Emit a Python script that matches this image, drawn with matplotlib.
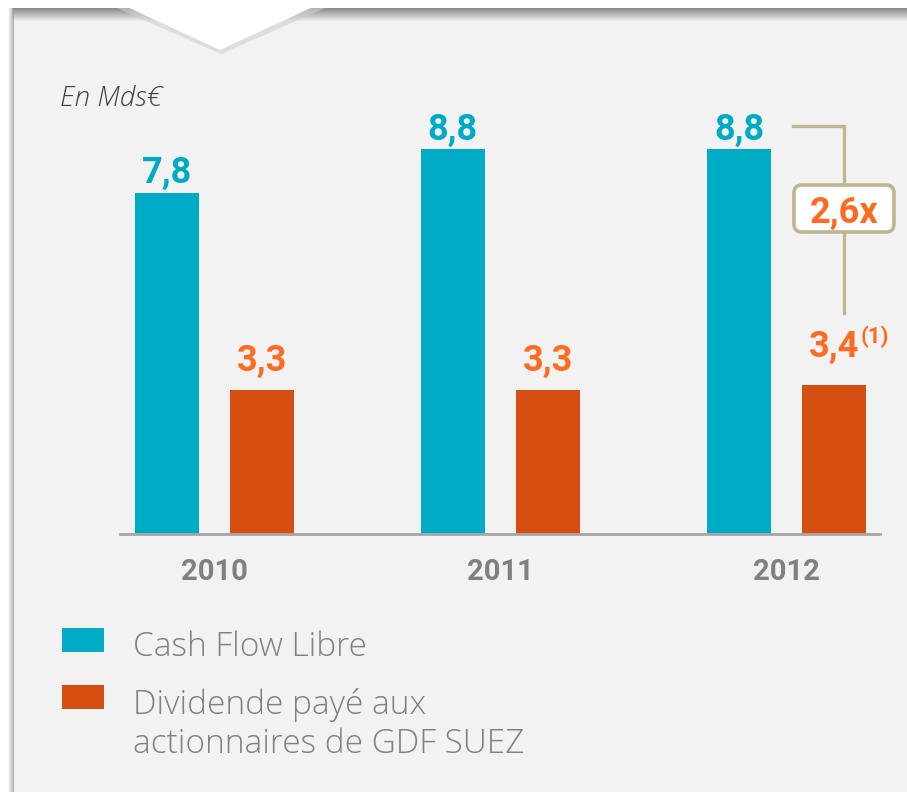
import numpy as np
import matplotlib.pyplot as plt
from matplotlib.patches import Rectangle, Polygon, FancyBboxPatch
from matplotlib.transforms import ScaledTranslation

# --- Data ---
years = ["2010", "2011", "2012"]
cash_flow = [7.8, 8.8, 8.8]
dividend = [3.3, 3.3, 3.4]
labels_cf = ["7,8", "8,8", "8,8"]
labels_div = ["3,3", "3,3", "3,4"]
ratio_label = "2,6x"
legend_labels = ["Cash Flow Libre", "Dividende payé aux\nactionnaires de GDF SUEZ"]

BLUE = "#00acc5"
ORANGE = "#d64e12"
ORANGE_TXT = "#ff6a21"
GREY_TXT = "#808080"
TAN = "#bdb68f"
BG = "#f2f2f2"

W, H = 907, 792
fig = plt.figure(figsize=(W / 100, H / 100), dpi=100)
fig.patch.set_facecolor("white")

# --- background / decoration axes in pixel coordinates ---
bg = fig.add_axes([0, 0, 1, 1], zorder=0)
bg.set_xlim(0, W)
bg.set_ylim(H, 0)
bg.axis("off")
bg.add_patch(Rectangle((12, 8), W - 12, H - 8, color=BG, lw=0))
# top shadow
grad = np.linspace(0.45, 0.95, 14)[:, None] * np.ones((1, 10))
bg.imshow(grad, cmap="gray", vmin=0, vmax=1, extent=(12, W, 22, 8), aspect="auto",
          alpha=0.8, zorder=1)
# left shadow
lgrad = np.linspace(0.95, 0.6, 6)[None, :] * np.ones((10, 1))
bg.imshow(lgrad, cmap="gray", vmin=0, vmax=1, extent=(8, 14, H, 8), aspect="auto",
          alpha=0.7, zorder=1)
bg.add_patch(Polygon([(112, 6), (330, 6), (221, 54)], closed=True, color="#cfcfcf",
                     lw=0, zorder=2, alpha=0.6))
bg.add_patch(Polygon([(112, 0), (328, 0), (220, 50)], closed=True, color="white",
                     lw=0, zorder=3))
bg.add_patch(Rectangle((0, 0), W, 8, color="white", lw=0, zorder=3))

bg.text(60, 98, "En Mds€", fontsize=20, style="italic", color="#404040",
        family="Open Sans", fontweight="light", va="center", ha="left")

# legend
for i, (lab, col) in enumerate(zip(legend_labels, [BLUE, ORANGE])):
    y0 = 628 + i * 57
    bg.add_patch(Rectangle((62, y0), 42, 24, color=col, lw=0))
    bg.text(133, y0 + 3, lab, fontsize=24, color=GREY_TXT, family="Open Sans",
            fontweight="light", va="top", ha="left", linespacing=1.22)

# --- bar axes ---
px_unit = (534 - 149) / 8.8
top_px = 100
ax = fig.add_axes([120 / W, (H - 534) / H, (880 - 120) / W, (534 - top_px) / H], zorder=1)
ax.patch.set_alpha(0)
ax.set_ylim(0, (534 - top_px) / px_unit)
ax.set_xlim(-0.330, 2.327)

x = np.arange(len(years))
off = 95 / 2 / 286
bw = 64 / 286
ax.bar(x - off, cash_flow, bw, color=BLUE, zorder=2)
ax.bar(x + off, dividend, bw, color=ORANGE, zorder=2)

num_font = dict(family="Roboto", fontweight="bold", fontsize=26)
for xi, v, t in zip(x, cash_flow, labels_cf):
    ax.annotate(t, (xi - off, v), xytext=(0, 1), textcoords="offset points",
                ha="center", va="bottom", color=BLUE, **num_font)
for i, (xi, v, t) in enumerate(zip(x, dividend, labels_div)):
    dy = 8 if i < 2 else 15
    ax.annotate(t, (xi + off, v), xytext=(0, dy), textcoords="offset points",
                ha="center", va="bottom", color=ORANGE_TXT, annotation_clip=False,
                **num_font)
# footnote marker on last label
ax.annotate("(1)", (x[-1] + off, dividend[-1]), xytext=(19, 27), textcoords="offset points",
            ha="left", va="bottom", color=ORANGE_TXT, family="Roboto",
            fontweight="bold", fontsize=16)

# ratio bracket
xb = x[-1] + off + (845 - 835) / 286
xl = x[-1] - off + (793 - 739) / 286
ytop = cash_flow[-1] + (149 - 126) / px_unit
ybot = dividend[-1] + (385 - 313) / px_unit
ax.plot([xl, xb, xb], [ytop, ytop, ybot], color=TAN, lw=2.4, zorder=3,
        clip_on=False, solid_joinstyle="miter")
ymid = (534 - 208.5) / px_unit
box_tr = fig.dpi_scale_trans + ScaledTranslation(xb, ymid, ax.transData)
ax.add_patch(FancyBboxPatch((-0.50, -0.235), 1.0, 0.47,
                            boxstyle="round,pad=0,rounding_size=0.08",
                            fc="white", ec=TAN, lw=2.6, transform=box_tr,
                            zorder=4, clip_on=False))
ax.text(xb, ymid, ratio_label, ha="center", va="center_baseline", color=ORANGE_TXT,
        family="Roboto", fontweight="bold", fontsize=26, zorder=5)

ax.set_xticks(x)
ax.set_xticklabels(years)
ax.tick_params(axis="x", length=0, pad=17, labelsize=21, labelcolor=GREY_TXT)
for lab in ax.get_xticklabels():
    lab.set_fontweight("bold")
    lab.set_family("Roboto")
ax.set_yticks([])
for s in ["top", "right", "left"]:
    ax.spines[s].set_visible(False)
ax.spines["bottom"].set_color("#a6a6a6")
ax.spines["bottom"].set_linewidth(2)

fig.savefig("out.png", dpi=100, facecolor=fig.get_facecolor())
